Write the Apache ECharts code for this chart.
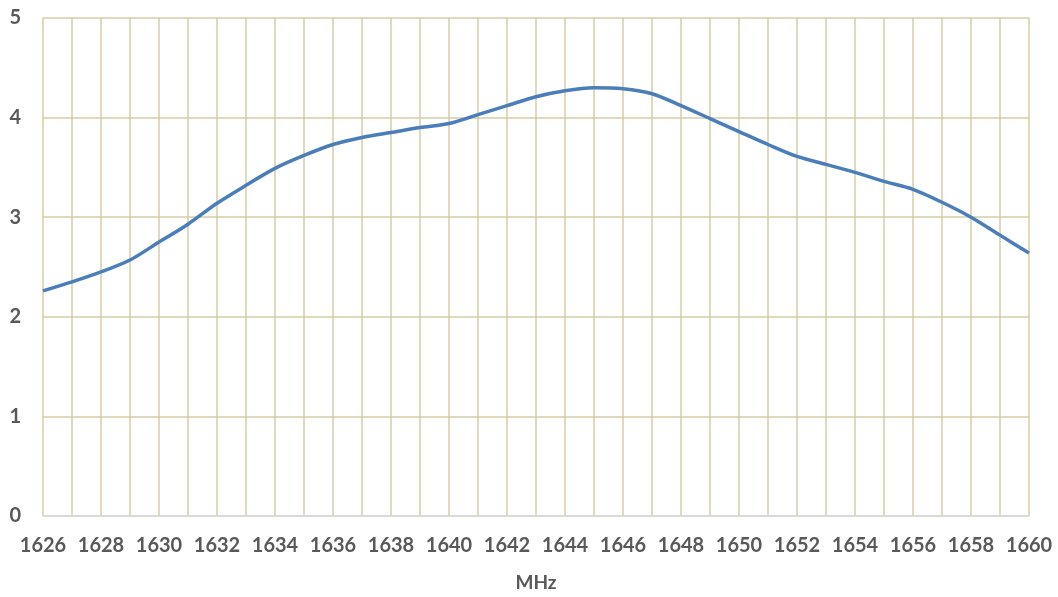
<!DOCTYPE html>
<html>
<head>
<meta charset="utf-8">
<script src="https://cdn.jsdelivr.net/npm/echarts@6/dist/echarts.min.js"></script>
<style>
  html, body { margin: 0; padding: 0; background: #fff; }
  #chart { width: 1058px; height: 597px; }
</style>
</head>
<body>
<div id="chart"></div>
<script>
// frequency steps, MHz
const freqs = []
for (let f = 1626; f <= 1660; f++) freqs.push(String(f))

// values
const values = [
  2.26, 2.35, 2.45, 2.57, 2.75, 2.93, 3.14, 3.32, 3.49, 3.62,
  3.73, 3.80, 3.85, 3.90, 3.94, 4.03, 4.12, 4.21, 4.27, 4.30,
  4.29, 4.24, 4.12, 3.99, 3.86, 3.73, 3.61, 3.53, 3.45, 3.36,
  3.28, 3.15, 3.00, 2.82, 2.64
]

const gridColor = '#d6cca4'
const textColor = '#595959'

const chart = echarts.init(document.getElementById('chart'))
chart.setOption({
  animation: false,
  grid: { left: 43, right: 29, top: 18, bottom: 77, containLabel: false },
  xAxis: {
    type: 'category', data: freqs, boundaryGap: false,
    name: 'MHz', nameLocation: 'middle', nameGap: 57,
    nameTextStyle: { color: textColor, fontFamily: 'Lato', fontWeight: 'bold', fontSize: 19 },
    axisLine: { lineStyle: { color: '#d9d9d9', width: 2 } },
    axisTick: { show: false },
    axisLabel: { interval: 1, margin: 20, color: textColor, fontFamily: 'Lato', fontWeight: 'bold', fontSize: 20 },
    splitLine: { show: true, interval: 0, lineStyle: { color: gridColor, width: 1.5 } }
  },
  yAxis: {
    type: 'value', min: 0, max: 5, interval: 1,
    axisLine: { show: false },
    axisTick: { show: false },
    axisLabel: { margin: 22, color: textColor, fontFamily: 'Lato', fontWeight: 'bold', fontSize: 20 },
    splitLine: { lineStyle: { color: gridColor, width: 1.5 } }
  },
  series: [{
    type: 'line', data: values, smooth: 0.3, symbol: 'none',
    lineStyle: { color: '#4a7ebb', width: 3.5 }
  }]
})
</script>
</body>
</html>
